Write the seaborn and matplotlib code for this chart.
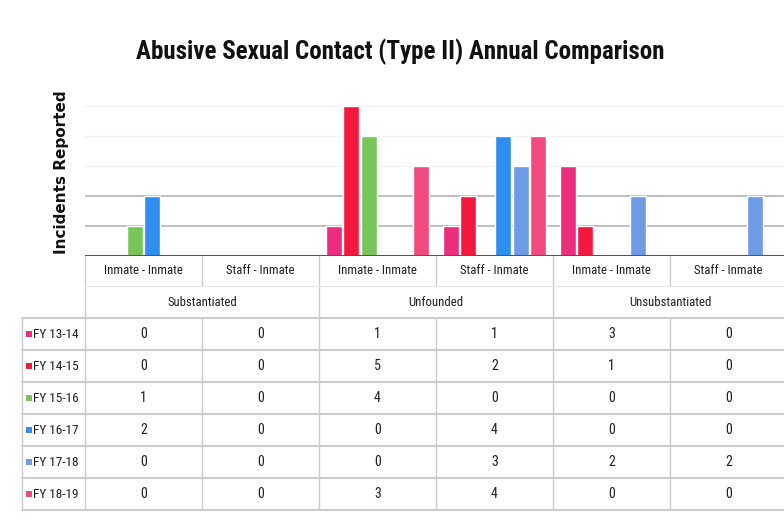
import matplotlib
matplotlib.use("Agg")
import matplotlib.pyplot as plt
import seaborn as sns
import pandas as pd
import os
from matplotlib import font_manager
from matplotlib.font_manager import FontProperties

sns.set_style("white")

# ---- data ----
groups = ["Substantiated", "Unfounded", "Unsubstantiated"]
subcats = ["Inmate - Inmate", "Staff - Inmate"]
years = ["FY 13-14", "FY 14-15", "FY 15-16", "FY 16-17", "FY 17-18", "FY 18-19"]
fy1314 = [0, 0, 1, 1, 3, 0]
fy1415 = [0, 0, 5, 2, 1, 0]
fy1516 = [1, 0, 4, 0, 0, 0]
fy1617 = [2, 0, 0, 4, 0, 0]
fy1718 = [0, 0, 0, 3, 2, 2]
fy1819 = [0, 0, 3, 4, 0, 0]
series = [fy1314, fy1415, fy1516, fy1617, fy1718, fy1819]
colors = ["#ec2c7c", "#f2183e", "#78c65a", "#2f8ff0", "#6e9be6", "#f24a7e"]

cat_keys = [f"{g}|{s}" for g in groups for s in subcats]
cat_labels = [s for g in groups for s in subcats]

rows = []
for y, vals in zip(years, series):
    for k, v in zip(cat_keys, vals):
        rows.append({"cat": k, "year": y, "value": v})
df = pd.DataFrame(rows)

# ---- fonts: look for a condensed face by file name ----
files = [f.fname for f in font_manager.fontManager.ttflist]


def find_font(cands):
    for c in cands:
        for fn in files:
            if os.path.basename(fn).lower() == c.lower():
                return fn
    return None


reg_file = find_font(["LiberationSansNarrow-Regular.ttf", "RobotoCondensed-Regular.ttf",
                      "DejaVuSansCondensed.ttf", "OpenSans_Condensed-Regular.ttf"])
bold_file = find_font(["LiberationSansNarrow-Bold.ttf", "RobotoCondensed-Bold.ttf",
                       "DejaVuSansCondensed-Bold.ttf", "OpenSans_Condensed-Bold.ttf"])


def fp(size, bold=False):
    f = bold_file if bold else reg_file
    if f:
        return FontProperties(fname=f, size=size)
    return FontProperties(family="DejaVu Sans", size=size,
                          weight="bold" if bold else "normal")


W, H = 784, 520
fig = plt.figure(figsize=(W / 100, H / 100), dpi=100)
fig.patch.set_facecolor("white")

# layout in pixels
x0, base, top = 85, 256, 76
colw = 117
ax = fig.add_axes([x0 / W, (H - base) / H, 6 * colw / W, (base - top) / H])

sns.barplot(data=df, x="cat", y="value", hue="year", order=cat_keys,
            hue_order=years, palette=colors, width=0.9, gap=0.08,
            errorbar=None, ax=ax, legend=False, saturation=1, zorder=3)
ax.set_ylim(0, 6)
ax.set_xlim(-0.5, 5.5)
for v in [1, 2]:
    ax.axhline(v, color="#b4b4b4", lw=1.2, zorder=1)
for v in [3, 4, 5]:
    ax.axhline(v, color="#f2f2f2", lw=1.0, zorder=1)
ax.axhline(0, color="#555555", lw=2.2, zorder=4)
ax.set_xticks([])
ax.set_yticks([])
ax.set_xlabel("")
ax.set_ylabel("")
for s in ax.spines.values():
    s.set_visible(False)
ax.set_facecolor("none")

# overlay for table / labels in pixel coordinates
ov = fig.add_axes([0, 0, 1, 1], zorder=-1)
ov.set_xlim(0, W)
ov.set_ylim(H, 0)
ov.axis("off")

lc = "#cbcbcb"
tc = "#1e1e1e"
# title
ov.text(400, 52, "Abusive Sexual Contact (Type II) Annual Comparison",
        ha="center", va="center", fontproperties=fp(18, True), color="#111111")
# y label
ov.text(62, 172, "Incidents Reported", rotation=90, ha="center", va="center",
        fontsize=11, fontweight="bold", family="DejaVu Sans", color="#111111")

tick_y, group_y = 271, 302
row_top, rowh = 318, 32
tab_left = 22
n = len(cat_labels)
xr = x0 + n * colw
for i, lab in enumerate(cat_labels):
    cx = x0 + (i + 0.5) * colw
    ov.text(cx, tick_y, lab, ha="center", va="center", fontproperties=fp(9.2), color=tc)
for i in range(n + 1):
    xx = x0 + i * colw
    if i % 2 == 0:
        ov.plot([xx, xx], [base, row_top + 6 * rowh], color=lc, lw=1)
    else:
        ov.plot([xx, xx], [base, 286], color=lc, lw=1)
        ov.plot([xx, xx], [row_top, row_top + 6 * rowh], color=lc, lw=1)
ov.plot([x0, xr], [286, 286], color="#e6e6e6", lw=0.8)
for g, name in enumerate(groups):
    cx = x0 + (2 * g + 1) * colw
    ov.text(cx, group_y, name, ha="center", va="center", fontproperties=fp(9.2), color=tc)

# table
for r in range(7):
    yy = row_top + r * rowh
    ov.plot([tab_left, xr], [yy, yy], color=lc, lw=1.4)
ov.plot([tab_left, tab_left], [row_top, row_top + 6 * rowh], color=lc, lw=1)
for r, (y, vals, c) in enumerate(zip(years, series, colors)):
    cy = row_top + (r + 0.5) * rowh
    ov.plot([29], [cy], marker="s", ms=4, color=c, mew=0)
    ov.text(33, cy, y, ha="left", va="center", fontproperties=fp(9.5), color=tc)
    for i, v in enumerate(vals):
        ov.text(x0 + (i + 0.5) * colw, cy, str(v), ha="center", va="center",
                fontproperties=fp(10), color=tc)

fig.savefig("out.png", dpi=100, facecolor="white")
